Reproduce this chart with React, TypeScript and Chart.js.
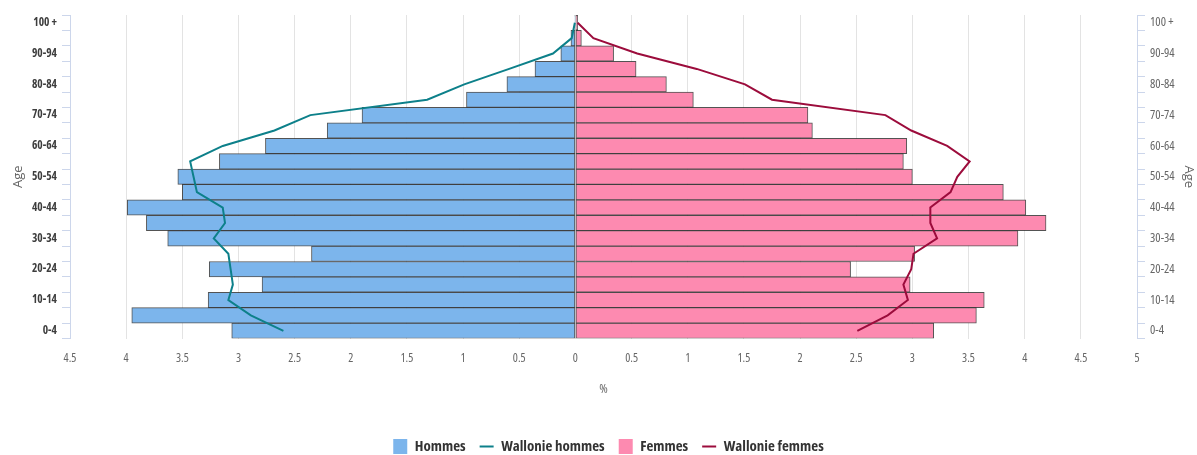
import React, { useEffect, useRef } from 'react';
import { Chart, registerables } from 'chart.js';

Chart.register(...registerables);

// Age groups, bottom to top
const ageGroups = [
  '0-4', '5-9', '10-14', '15-19', '20-24', '25-29', '30-34', '35-39', '40-44', '45-49',
  '50-54', '55-59', '60-64', '65-69', '70-74', '75-79', '80-84', '85-89', '90-94', '95-99', '100 +',
];

// Share of population (%), drawn to the left for men
const hommes = [
  3.06, 3.95, 3.27, 2.79, 3.26, 2.35, 3.63, 3.82, 3.99, 3.5,
  3.54, 3.17, 2.76, 2.21, 1.9, 0.97, 0.61, 0.36, 0.13, 0.04, 0.005,
];
const femmes = [
  3.19, 3.57, 3.64, 2.98, 2.45, 3.02, 3.94, 4.19, 4.01, 3.81,
  3.0, 2.92, 2.95, 2.11, 2.07, 1.05, 0.81, 0.54, 0.34, 0.053, 0.02,
];
const wallonieHommes = [
  2.6, 2.89, 3.09, 3.05, 3.07, 3.09, 3.22, 3.12, 3.14, 3.37,
  3.4, 3.43, 3.14, 2.68, 2.36, 1.32, 0.99, 0.59, 0.2, 0.033, 0.005,
];
const wallonieFemmes = [
  2.51, 2.78, 2.96, 2.92, 2.99, 3.01, 3.22, 3.16, 3.16, 3.34,
  3.4, 3.51, 3.31, 2.99, 2.76, 1.75, 1.51, 1.08, 0.55, 0.16, 0.02,
];

const xMin = -4.5;
const xMax = 5;
const xStep = 0.5;

const FONT = "'Open Sans', 'Liberation Sans', sans-serif";

export default function App() {
  const canvasRef = useRef<HTMLCanvasElement | null>(null);

  useEffect(() => {
    const canvas = canvasRef.current;
    if (!canvas) return;
    const chart = new Chart(canvas, {
      type: 'bar',
      data: {
        labels: ageGroups,
        datasets: [
          {
            type: 'bar',
            label: 'Hommes',
            data: hommes.map((v) => -v),
            backgroundColor: '#7cb5ec',
            borderColor: 'rgba(40,40,40,0.8)',
            borderWidth: 1,
            borderSkipped: false,
            barPercentage: 1,
            categoryPercentage: 1,
            grouped: false,
            order: 2,
          },
          {
            type: 'line',
            label: 'Wallonie hommes',
            data: wallonieHommes.map((v) => -v),
            borderColor: '#0d808a',
            backgroundColor: '#0d808a',
            borderWidth: 2,
            pointRadius: 0,
            tension: 0,
            order: 1,
          },
          {
            type: 'bar',
            label: 'Femmes',
            data: femmes,
            backgroundColor: '#fd8ab0',
            borderColor: 'rgba(40,40,40,0.8)',
            borderWidth: 1,
            borderSkipped: false,
            barPercentage: 1,
            categoryPercentage: 1,
            grouped: false,
            order: 2,
          },
          {
            type: 'line',
            label: 'Wallonie femmes',
            data: wallonieFemmes,
            borderColor: '#9c0c3c',
            backgroundColor: '#9c0c3c',
            borderWidth: 2,
            pointRadius: 0,
            tension: 0,
            order: 1,
          },
        ] as any,
      },
      options: {
        indexAxis: 'y',
        animation: false,
        responsive: false,
        layout: { padding: { top: 15, bottom: -9, left: 10, right: -10 } },
        scales: {
          x: {
            type: 'linear',
            min: xMin,
            max: xMax,
            ticks: {
              stepSize: xStep,
              autoSkip: false,
              padding: 13,
              color: '#666666',
              font: { family: FONT, size: 12, weight: 'normal condensed' },
              callback: (v: any) => String(Math.round(Math.abs(Number(v)) * 10) / 10),
            },
            grid: { color: '#e3e3e3', drawTicks: false, lineWidth: 1 },
            border: { display: false },
            title: {
              display: true,
              text: '%',
              color: '#666666',
              font: { family: FONT, size: 13, weight: 'normal condensed' },
              padding: { top: 0, bottom: 28 },
            },
            afterFit: (scale: any) => {
              scale.height = 86.5;
            },
          },
          y: {
            type: 'category',
            position: 'left',
            reverse: true,
            offset: true,
            ticks: {
              autoSkip: false,
              padding: 5,
              color: '#3d3d3d',
              font: { family: FONT, size: 11.5, weight: 'bold semi-condensed' },
              callback: (_v: any, i: number) => (i % 2 === 0 ? ageGroups[i] : ''),
            },
            grid: {
              offset: true,
              drawOnChartArea: false,
              drawTicks: true,
              tickLength: 8,
              color: '#ccd6eb',
            },
            border: { display: true, color: '#ccd6eb', width: 1 },
            title: {
              display: true,
              text: 'Age',
              color: '#666666',
              font: { family: FONT, size: 13 },
              padding: { top: 0, bottom: 0 },
            },
            afterFit: (scale: any) => {
              scale.width = 60;
            },
          },
          y2: {
            type: 'category',
            position: 'right',
            labels: ageGroups,
            reverse: true,
            offset: true,
            ticks: {
              autoSkip: false,
              padding: 5,
              color: '#666666',
              font: { family: FONT, size: 12.5, weight: 'normal semi-condensed' },
              callback: (_v: any, i: number) => (i % 2 === 0 ? ageGroups[i] : ''),
            },
            grid: {
              offset: true,
              drawOnChartArea: false,
              drawTicks: true,
              tickLength: 8,
              color: '#ccd6eb',
            },
            border: { display: true, color: '#ccd6eb', width: 1 },
            title: {
              display: true,
              text: 'Age',
              color: '#666666',
              font: { family: FONT, size: 13 },
              padding: { top: 10, bottom: 0 },
            },
            afterFit: (scale: any) => {
              scale.width = 70;
            },
          },
        } as any,
        plugins: {
          tooltip: { enabled: false },
          legend: {
            display: true,
            position: 'bottom',
            labels: {
              usePointStyle: true,
              pointStyleWidth: 14,
              padding: 14,
              color: '#333333',
              font: { family: FONT, size: 15, weight: 'bold condensed' },
              generateLabels: (ch: any) => {
                const items = Chart.defaults.plugins.legend.labels.generateLabels(ch);
                items.sort((a: any, b: any) => a.datasetIndex - b.datasetIndex);
                items.forEach((it: any) => {
                  const ds = ch.data.datasets[it.datasetIndex];
                  if (ds.type === 'bar') {
                    it.pointStyle = 'rect';
                    it.lineWidth = 0;
                    it.strokeStyle = 'rgba(0,0,0,0)';
                  } else {
                    it.pointStyle = 'line';
                    it.lineWidth = 2;
                    it.strokeStyle = ds.borderColor;
                  }
                });
                return items;
              },
            },
          },
        },
      } as any,
    });
    return () => chart.destroy();
  }, []);

  return (
    <div style={{ position: 'absolute', left: 0, top: 0, width: 1197, height: 455, background: '#ffffff' }}>
      <canvas ref={canvasRef} width={1197} height={455} style={{ display: 'block' }} />
    </div>
  );
}
